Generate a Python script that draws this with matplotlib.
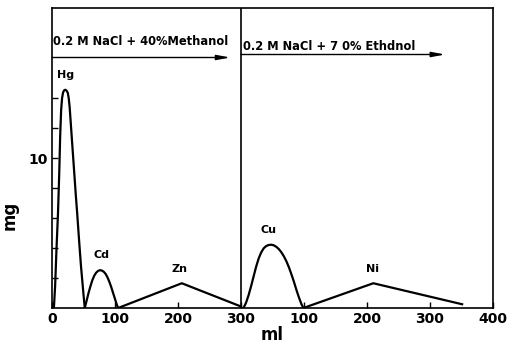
import matplotlib
matplotlib.use("Agg")
import matplotlib.pyplot as plt

# ---- data (x in ml, cumulative 0-700; y in mg) ----
hg_x = [3, 5, 7, 9.5, 11.5, 13, 14.5, 16, 17.5, 19, 21, 23, 25, 26.5, 28, 29.5,
        32, 35, 38, 40, 43, 46, 48, 50, 52]
hg_y = [0, 1.5, 3.8, 6.3, 9.0, 11.5, 13.2, 14.0, 14.35, 14.5, 14.55, 14.5, 14.35,
        14.0, 13.4, 12.5, 11.0, 9.2, 7.4, 6.3, 4.5, 2.8, 1.85, 0.9, 0]

cd_x = [52, 55, 58, 61, 64, 67, 70, 73, 76, 79, 82, 85, 88, 91, 94, 97, 100, 103, 105]
cd_y = [0, 0.5, 1.0, 1.45, 1.85, 2.15, 2.35, 2.47, 2.52, 2.5, 2.42, 2.28, 2.05,
        1.75, 1.4, 1.0, 0.6, 0.2, 0]

zn_x = [105, 206, 300]
zn_y = [0, 1.65, 0.1]

cu_x = [304, 308, 312, 316, 320, 324, 328, 332, 336, 340, 344, 348, 352, 356, 360,
        364, 368, 372, 376, 380, 384, 388, 392, 396, 399]
cu_y = [0, 0.35, 0.85, 1.45, 2.1, 2.75, 3.3, 3.7, 3.98, 4.13, 4.2, 4.22, 4.18, 4.08,
        3.93, 3.72, 3.45, 3.12, 2.72, 2.25, 1.75, 1.2, 0.7, 0.25, 0]

ni_x = [399, 510, 651]
ni_y = [0, 1.65, 0.25]

peak_names = ["Hg", "Cd", "Zn", "Cu", "Ni"]
x_tick_pos = [0, 100, 200, 300, 400, 500, 600, 700]
x_tick_labels = ["0", "100", "200", "300", "100", "200", "300", "400"]
y_tick_pos = [2, 4, 6, 8, 10, 12, 14]
y_tick_labels = ["", "", "", "", "10", "", ""]
eluent_labels = ["0.2 M NaCl + 40%Methanol", "0.2 M NaCl + 7 0% Ethdnol"]

plt.rcParams['font.family'] = ['DejaVu Sans']
fig = plt.figure(figsize=(5.16, 3.46), dpi=100)
ax = fig.add_axes([52/516, 1 - 308/346, (493-52)/516, (308-8)/346])

lw = 1.6
for xs, ys in [(hg_x, hg_y), (cd_x, cd_y), (zn_x, zn_y), (cu_x, cu_y), (ni_x, ni_y)]:
    ax.plot(xs, ys, color="black", lw=lw, solid_joinstyle="round")

ax.set_xlim(0, 700)
ax.set_ylim(0, 20)
ax.axvline(300, color="black", lw=1.2)

ax.set_xticks(x_tick_pos)
ax.set_xticklabels(x_tick_labels, fontsize=10, fontweight="bold")
ax.set_yticks(y_tick_pos)
ax.set_yticklabels(y_tick_labels, fontsize=10, fontweight="bold")
ax.tick_params(direction="in", length=4, width=1, pad=3)
for s in ax.spines.values():
    s.set_linewidth(1.2)

ax.set_xlabel("ml", fontsize=12, fontweight="bold", labelpad=0)
ax.set_ylabel("mg", fontsize=12, fontweight="bold")
ax.yaxis.set_label_coords(-0.075, 0.31)

# peak labels
label_pos = [(hg_x[10], hg_y[10]), (cd_x[8] + 2, cd_y[8]), (zn_x[1] - 4, zn_y[1]),
             (cu_x[11] - 5, cu_y[11]), (ni_x[1] - 2, ni_y[1])]
for name, (px, py) in zip(peak_names, label_pos):
    ax.annotate(name, (px, py), xytext=(0, 7), textcoords="offset points",
                ha="center", va="bottom", fontsize=8, fontweight="bold")

# eluent annotations with arrows
ax.text(2, 17.75, eluent_labels[0], fontsize=8.3, fontweight="bold", va="center", ha="left")
ax.annotate("", xy=(283, 16.7), xytext=(0, 16.7),
            arrowprops=dict(arrowstyle="-|>,head_length=0.8,head_width=0.15",
                            color="black", lw=1.0, shrinkA=0, shrinkB=0))
ax.text(303, 17.45, eluent_labels[1], fontsize=8.3, fontweight="bold", va="center", ha="left")
ax.annotate("", xy=(624, 16.9), xytext=(300, 16.9),
            arrowprops=dict(arrowstyle="-|>,head_length=0.8,head_width=0.15",
                            color="black", lw=1.0, shrinkA=0, shrinkB=0))

fig.savefig("out.png", dpi=100)
